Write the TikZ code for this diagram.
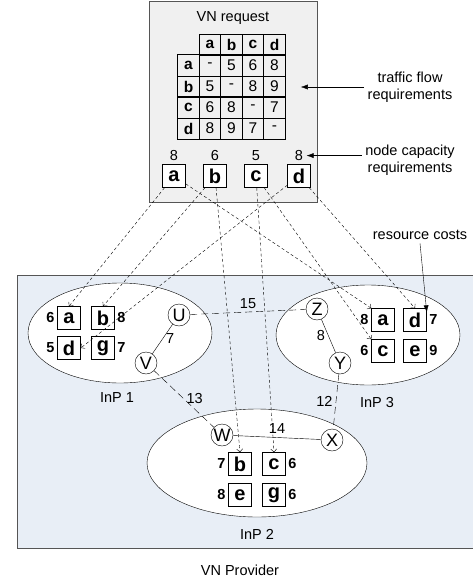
\documentclass[tikz,border=0pt]{standalone}
\usepackage{fontspec}
\setmainfont{Liberation Sans}
\usetikzlibrary{arrows.meta,positioning,shapes.geometric,matrix}
\definecolor{reqgray}  {RGB}{240,240,240}
\definecolor{provblue} {RGB}{232,238,246}
\definecolor{edgegray} {RGB}{85 , 85, 85}
\newcommand\dfont{\fontsize{14.5}{17}\selectfont}
\newcommand\bigfont{\fontsize{20}{20}\selectfont}

\begin{document}
\begin{tikzpicture}[
  x=1pt, y=-1pt,
  every node/.style={font=\dfont},
  vbox/.style={draw, line width=1pt, fill=white, minimum size=22.5pt, inner sep=0pt, font=\bigfont\bfseries},
  sw/.style={draw, circle, fill=white, minimum size=22pt, inner sep=0pt, font=\fontsize{18}{18}\selectfont},
  inp/.style={draw, ellipse, fill=white, inner sep=0pt},
  cost/.style={font=\dfont\bfseries, inner sep=2.5pt},
  map/.style={-{Straight Barb[length=3pt,width=6pt]}, dash pattern=on 3pt off 2.5pt},
  vlink/.style={dash pattern=on 7pt off 4pt},
  note/.style={-{Latex[length=7pt,width=5pt]}}
]
  \useasboundingbox (0,0) rectangle (473,583);

  % Containers
  \node (prov) [draw=edgegray, line width=1pt, fill=provblue, minimum width=480pt, minimum height=273pt] at (257,411.5) {};
  \node (vnbox) [draw=edgegray, line width=1pt, fill=reqgray, minimum width=168pt, minimum height=200pt] at (233,102) {};
  \node at (233,18) {VN request};
  \node at (240,570) {VN Provider};

  % Traffic matrix
  \matrix (tfm) [matrix of nodes,
    nodes={draw, line width=1pt, minimum width=21.5pt, minimum height=21pt, inner sep=0pt, anchor=center, font=\fontsize{15.5}{16}\selectfont},
    column sep=-1pt, row sep=-1pt,
    row 1/.style={nodes={font=\fontsize{15.5}{16}\selectfont\bfseries}},
    column 1/.style={nodes={font=\fontsize{15.5}{16}\selectfont\bfseries}}] at (231.5,86.5) {
      & a & b & c & d \\
    a & - & 5 & 6 & 8 \\
    b & 5 & - & 8 & 9 \\
    c & 6 & 8 & - & 7 \\
    d & 8 & 9 & 7 & - \\
  };

  % VN nodes
  \node (va) [vbox, label=above:8] at (174,176) {a};
  \node (vb) [vbox, label=above:6, right=17.5pt of va] {b};
  \node (vc) [vbox, label=above:5, right=17.5pt of vb] {c};
  \node (vd) [vbox, label={[name=capd]above:8}, right=19.5pt of vc] {d};

  % Notes
  \node (tf) [align=center] at (410,87) {traffic flow\\requirements};
  \node (nc) [align=center] at (410,160) {node capacity\\requirements};
  \node (rc) at (420,235) {resource costs};

  % InPs
  \node (inp1) [inp, minimum width=184pt, minimum height=100pt] at (120,333) {};
  \node (inp3) [inp, minimum width=184pt, minimum height=100pt] at (368,335) {};
  \node (inp2) [inp, minimum width=220pt, minimum height=108pt] at (257,463) {};
  \node [below=6pt of inp1, xshift=-3pt] {InP 1};
  \node [below=9pt of inp3, xshift=9pt] {InP 3};
  \node [below=9pt of inp2] {InP 2};

  % InP 1
  \node (p1a) [vbox, label={[cost]left:6}] at (69,318) {a};
  \node (p1b) [vbox, label={[cost]right:8}, right=10.5pt of p1a] {b};
  \node (p1d) [vbox, label={[cost]left:5}, below=6.5pt of p1a] {d};
  \node (p1g) [vbox, label={[cost]right:7}, right=10.5pt of p1d] {g};
  \node (U) [sw] at (179,315) {U};
  \node (V) [sw] at (146,363) {V};

  % InP 3
  \node (p3a) [vbox, label={[cost]left:8}] at (383,320) {a};
  \node (p3d) [vbox, label={[cost, name=cd3]right:7}, right=8.5pt of p3a] {d};
  \node (p3c) [vbox, label={[cost]left:6}, below=7.5pt of p3a] {c};
  \node (p3e) [vbox, label={[cost]right:9}, right=8.5pt of p3c] {e};
  \node (Z) [sw] at (317,309) {Z};
  \node (Y) [sw] at (340,363) {Y};

  % InP 2
  \node (p2b) [vbox, label={[cost]left:7}] at (240,464) {b};
  \node (p2c) [vbox, label={[cost]right:6}, right=10.5pt of p2b] {c};
  \node (p2e) [vbox, label={[cost]left:8}, below=7.5pt of p2b] {e};
  \node (p2g) [vbox, label={[cost]right:6}, right=10.5pt of p2e] {g};
  \node (W) [sw] at (222,435) {W};
  \node (X) [sw] at (332,440) {X};

  % Links
  \draw (U) -- node[right] {7} (V);
  \draw (Z) -- node[left] {8} (Y);
  \draw (W) -- node[above] {14} (X);
  \draw [vlink] (U) -- node[above] {15} (Z);
  \draw [vlink] (V) -- node[right=-1pt] {13} (W);
  \draw [vlink] (Y) -- node[left] {12} (X);

  % Mapping
  \draw [map] (va) -- (p1a.north);
  \draw [map] (va) -- (p3a.north west);
  \draw [map] (vb) -- (p1b.north);
  \draw [map] (vb) -- (p2b.north);
  \draw [map] (vc) -- (p2c.north);
  \draw [map] (vc) -- (p3c.north west);
  \draw [map] (vd) -- (p1d.east);
  \draw [map] (vd) -- (p3d.north);

  % Note arrows
  \draw [note] (tf.west) -- ([xshift=15pt]tf.west -| tfm-3-5.east);
  \draw [note] (nc.west |- capd) -- (capd.east);
  \draw [note] (rc.south) -- (cd3.north west);
\end{tikzpicture}
\end{document}
